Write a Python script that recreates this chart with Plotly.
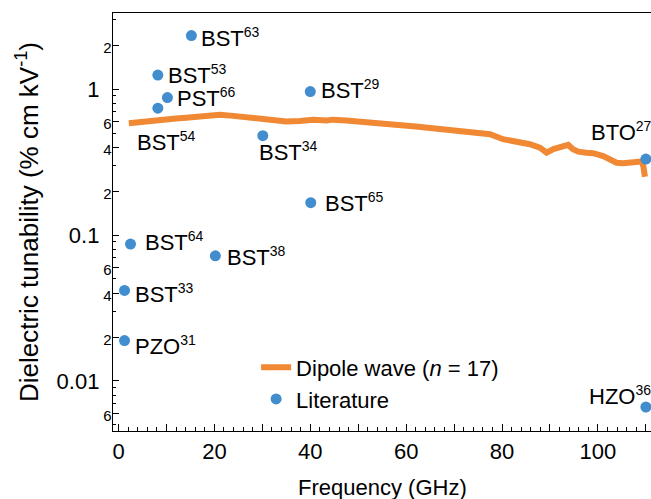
import plotly.graph_objects as go
import math

# Dipole wave measurement (n = 17)
freq_dw = [2.15, 4.3, 6.47, 8.2, 9.95, 12.0, 14.1, 16.9, 19.7, 21.1, 23.9, 26.7, 29.4, 30.8,
           33.6, 35.0, 37.8, 40.6, 43.4, 44.7, 47.5, 50.3, 51.7, 54.5, 57.3, 58.7, 62.0, 65.5,
           69.1, 71.9, 74.7, 77.5, 80.2, 83.0, 85.8, 87.9, 89.3, 90.7, 92.1, 93.8, 94.8,
           95.9, 97.6, 99.0, 101.1, 102.5, 103.9, 105.3, 106.7, 108.1, 109.1, 109.5, 109.8]
tun_dw = [0.584, 0.596, 0.609, 0.617, 0.625, 0.630, 0.638, 0.648, 0.663, 0.667, 0.656, 0.642,
          0.625, 0.622, 0.616, 0.600, 0.606, 0.616, 0.609, 0.618, 0.609, 0.600, 0.590, 0.584,
          0.571, 0.567, 0.555, 0.540, 0.526, 0.517, 0.507, 0.491, 0.454, 0.437, 0.419, 0.397,
          0.367, 0.388, 0.400, 0.415, 0.388, 0.373, 0.367, 0.364, 0.348, 0.331, 0.313, 0.311,
          0.313, 0.311, 0.319, 0.294, 0.251]

# Literature values
lit_names = ["BST", "BST", "PST", "BST", "BST", "BST", "BST", "BST", "BST", "BST", "PZO", "BTO", "HZO"]
lit_refs = ["63", "53", "66", "54", "29", "34", "65", "64", "38", "33", "31", "27", "36"]
lit_freq = [15.2, 8.2, 10.2, 8.2, 40.0, 30.1, 40.1, 2.5, 20.2, 1.25, 1.25, 110.0, 110.0]
lit_tun = [2.33, 1.25, 0.876, 0.741, 0.963, 0.48, 0.1667, 0.0867, 0.0721, 0.0417, 0.0189, 0.332, 0.00663]

# label placement (style): (xanchor, xshift px, yshift px)
label_pos = [("left", 8, -2), ("left", 8, 1), ("left", 8, 0), ("left", -23, -33), ("left", 9, 2),
             ("left", -6, -16), ("left", 12, 0), ("left", 12, 3), ("left", 10, -1), ("left", 8, -3),
             ("left", 8, -5), ("left", -57, 28), ("left", -59, 12)]

# axis ticks
y_tickvals = [0.006, 0.01, 0.02, 0.04, 0.06, 0.1, 0.2, 0.4, 0.6, 1, 2]
y_ticklabels = ["6", "0.01", "2", "4", "6", "0.1", "2", "4", "6", "1", "2"]
y_minor = [m * 10 ** e for e in (-3, -2, -1, 0) for m in range(1, 10)]
x_tickvals = [0, 10, 20, 30, 40, 50, 60, 70, 80, 90, 100, 110]
x_ticklabels = ["0", "", "20", "", "40", "", "60", "", "80", "", "100", ""]

ORANGE = "rgb(240,136,52)"
BLUE = "rgb(66,141,205)"
FONT = "Liberation Sans, Arial, sans-serif"

def ylab(t):
    if t.startswith("0.") or t == "1":
        return t + "\u00a0\u00a0"
    return '<span style="font-size:15px">' + t + "</span>"

fig = go.Figure()
fig.add_trace(go.Scatter(x=freq_dw, y=tun_dw, mode="lines",
                         line=dict(color=ORANGE, width=6),
                         name="Dipole wave (<i>n</i> = 17)"))
fig.add_trace(go.Scatter(x=lit_freq, y=lit_tun, mode="markers",
                         marker=dict(color=BLUE, size=11),
                         name="Literature"))

for n, r, xf, yt, (xa, xs, ys) in zip(lit_names, lit_refs, lit_freq, lit_tun, label_pos):
    fig.add_annotation(x=xf, y=math.log10(yt), xref="x", yref="y",
                       text=n + '<sup><span style="font-size:14px">' + r + "</span></sup>",
                       showarrow=False, xanchor=xa, yanchor="middle", xshift=xs, yshift=ys,
                       font=dict(size=22, color="black", family=FONT))

# x-axis title
fig.add_annotation(x=0.5, y=0, xref="paper", yref="paper", text="Frequency (GHz)",
                   showarrow=False, xanchor="center", yanchor="middle", yshift=-56,
                   font=dict(size=22, color="black", family=FONT))

fig.update_layout(
    width=651, height=499,
    margin=dict(l=113, r=0, t=13, b=68),
    paper_bgcolor="white", plot_bgcolor="white",
    font=dict(family=FONT, size=22, color="black"),
    showlegend=True,
    legend=dict(x=0.266, y=0.202, xanchor="left", yanchor="top",
                bgcolor="rgba(0,0,0,0)", font=dict(size=22),
                tracegroupgap=0),
)
fig.update_xaxes(range=[-1.15, 111.07], showgrid=False, zeroline=False,
                 showline=True, linecolor="black", linewidth=1, mirror=True,
                 ticks="inside", ticklen=7, tickcolor="black", tickwidth=1,
                 tickvals=x_tickvals, ticktext=x_ticklabels,
                 minor=dict(ticks="inside", ticklen=4, dtick=2, tick0=0, tickcolor="black", showgrid=False),
                 ticklabelstandoff=1, automargin=False)
fig.update_yaxes(type="log", range=[-2.343, 0.522], showgrid=False, zeroline=False,
                 showline=True, linecolor="black", linewidth=1, mirror=False,
                 ticks="inside", ticklen=6, tickcolor="black", tickwidth=1,
                 tickvals=y_tickvals, ticktext=[ylab(t) for t in y_ticklabels],
                 minor=dict(ticks="inside", ticklen=3, tickvals=y_minor, tickcolor="black", showgrid=False),
                 title=dict(text="Dielectric tunability (% cm kV<sup>-1</sup>)", standoff=10),
                 ticklabelstandoff=-4)

fig.write_html("out.html")
